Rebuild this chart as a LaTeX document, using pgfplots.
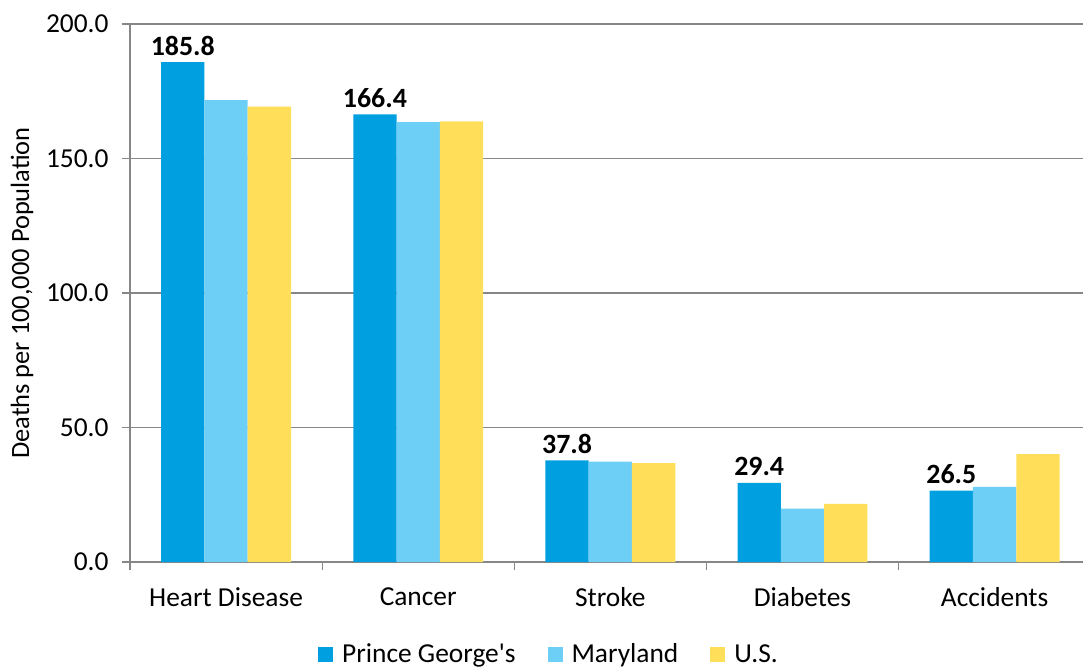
\documentclass[border=0pt]{standalone}
\usepackage{pgfplots}
\pgfplotsset{compat=1.18}
\usepackage{fontspec}
\setmainfont{Carlito}
\definecolor{pg}{RGB}{0,159,223}
\definecolor{md}{RGB}{109,207,246}
\definecolor{us}{RGB}{255,222,89}
\definecolor{ax}{RGB}{134,134,134}
\newcommand{\lab}{\fontsize{27.5}{33}\selectfont}
\pgfplotsset{sqlegend/.style={legend image code/.code={\fill[##1] (0bp,-7.5bp) rectangle (15bp,7.5bp);}}}
\begin{document}
\begin{tikzpicture}
\begin{axis}[
 scale only axis, width=953bp, height=538bp,
 ybar=0pt, bar width=43.3bp,
 xmin=-0.5, xmax=4.46, ymin=0, ymax=200,
 axis x line*=bottom, axis y line*=left,
 axis line style={draw=ax, line width=1.2bp},
 tick align=outside,
 major tick length=8bp, minor tick length=8bp,
 xtick={0,...,4},
 xticklabels={Heart Disease,Cancer,Stroke,Diabetes,Accidents},
 minor xtick={-0.5,0.5,1.5,2.5,3.5},
 major x tick style={draw=none},
 minor x tick style={draw=ax, line width=1.2bp},
 ytick={0,50,...,200},
 y tick style={draw=ax, line width=1.2bp},
 ymajorgrids,
 major grid style={draw=ax, line width=1.2bp},
 yticklabel style={/pgf/number format/.cd, fixed, fixed zerofill, precision=1, assume math mode=true, /tikz/.cd, xshift=-10bp},
 xticklabel style={yshift=-14bp},
 tick label style={font=\lab, text=black},
 ylabel={Deaths per 100,000 Population},
 ylabel style={font=\fontsize{26.5}{32}\selectfont, at={(axis description cs:-0.1133,0.5)}, anchor=center},
 legend style={at={(0.4397,-0.171)}, anchor=center, draw=none, fill=none, font=\lab,
   legend columns=3,
   /tikz/every odd column/.append style={column sep=7bp},
   /tikz/every even column/.append style={column sep=30bp}},
]
\addplot[fill=pg, draw=none, sqlegend,
  nodes near coords={\pgfmathprintnumber[fixed,fixed zerofill,precision=1,assume math mode=true]{\pgfplotspointmeta}},
  nodes near coords style={font=\bfseries\fontsize{28}{34}\selectfont, text=black, anchor=base, inner sep=0pt, yshift=7bp}]
 coordinates {(0,185.8) (1,166.4) (2,37.8) (3,29.4) (4,26.5)};
\addplot[fill=md, draw=none, sqlegend]
 coordinates {(0,171.7) (1,163.5) (2,37.3) (3,19.8) (4,27.9)};
\addplot[fill=us, draw=none, sqlegend]
 coordinates {(0,169.3) (1,163.8) (2,36.8) (3,21.6) (4,40.1)};
\legend{Prince George\textquotesingle s, Maryland, U.S.}
\end{axis}
\pgfresetboundingbox
\useasboundingbox (-130bp,-106bp) rectangle (955bp,562bp);
\end{tikzpicture}
\end{document}
